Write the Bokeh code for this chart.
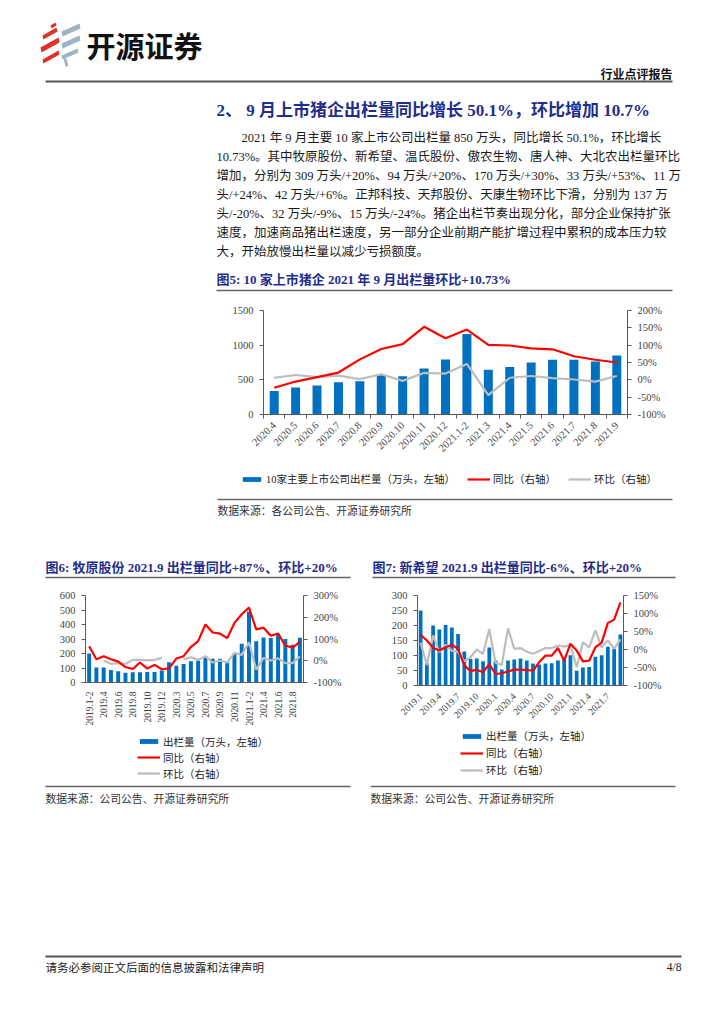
import math
from bokeh.plotting import figure
from bokeh.models import (Range1d, LinearAxis, FixedTicker, PrintfTickFormatter,
                          Legend, LegendItem, ColumnDataSource)
from bokeh.layouts import column, row
from bokeh.embed import file_html
from bokeh.resources import INLINE
from bokeh.core.properties import value

NAN = float("nan")
CJK = "Noto Sans CJK SC"
MIX = "'Liberation Serif', 'Noto Sans CJK SC'"
SERIF = "Liberation Serif"
BLUE = "#0070C0"
RED = "#FF0000"
GRAY = "#BDBDBD"
NAVY = "#1F2E8C"
AXC = "#595959"

# ---------------- data ----------------
c5_labels = ["2020.4", "2020.5", "2020.6", "2020.7", "2020.8", "2020.9", "2020.10",
             "2020.11", "2020.12", "2021.1-2", "2021.3", "2021.4", "2021.5", "2021.6",
             "2021.7", "2021.8", "2021.9"]
c5_volume = [340, 390, 420, 465, 480, 565, 550, 665, 795, 1160, 645, 685, 750, 790, 790, 765, 850]
c5_yoy = [-23, -5, 8, 21, 59, 89, 103, 153, 120, 145, 101, 99, 91, 88, 68, 58, 50]
c5_mom = [6, 14, 8, 12, 2, 16, -3, 20, 18, 46, -44, 6, 11, 5, 1, -5, 11]

c6_labels = (["2019.1-2"] + ["2019.%d" % m for m in range(3, 13)] +
             ["2020.1-2"] + ["2020.%d" % m for m in range(3, 13)] +
             ["2021.1-2"] + ["2021.%d" % m for m in range(3, 10)])
c6_volume = [200, 104, 104, 87, 78, 67, 71, 71, 73, 73, 82, 140, 116, 127, 147, 151, 173,
             164, 164, 138, 200, 267, 489, 284, 311, 307, 333, 300, 260, 309]
c6_yoy = [67, 7, 21, 7, -4, -29, -38, -8, -36, -19, -39, -35, 10, 21, 63, 90, 167, 130,
          125, 104, 174, 214, 244, 144, 152, 115, 125, 70, 60, 87]
c6_mom = [NAN, NAN, 0, -14, -11, -15, 4, 4, 2, 4, 13, NAN, NAN, 7, 16, 4, 21, -8, 1, -8,
          36, 27, 85, -41, 13, 1, 11, -11, -11, 20]

c7_labels = (["2019.%d" % m for m in range(1, 13)] + ["2020.%d" % m for m in range(1, 13)] +
             ["2021.%d" % m for m in range(1, 10)])
c7_volume = [250, 75, 200, 187, 202, 193, 172, 113, 89, 90, 81, 127, 83, 53, 83, 87, 90,
             83, 73, 70, 73, 74, 83, 87, 101, 49, 60, 62, 96, 101, 129, 122, 170]
c7_yoy = [41, 25, 5, -3, 6, 13, 2, -44, -60, -56, -63, -41, -68, -66, -61, -56, -56, -57,
          -59, -35, -17, -17, 4, -31, 16, -3, -33, -31, 6, 19, 74, 83, 131]
c7_mom = [19, -43, 39, -7, 13, -3, -7, -33, -21, 0, -12, 57, -37, -43, 59, 2, 4, -6, -12,
          -4, 4, 4, 11, 8, 13, -49, 20, 6, 53, 6, 25, 2, 28]

legend_c5 = ["10家主要上市公司出栏量（万头，左轴）", "同比（右轴）", "环比（右轴）"]
legend_c67 = ["出栏量（万头，左轴）", "同比（右轴）", "环比（右轴）"]


# ---------------- helpers ----------------
def text_fig(y0, y1, x0=0, w=724):
    p = figure(width=w, height=y1 - y0, x_range=Range1d(x0, x0 + w),
               y_range=Range1d(y1, y0), output_backend="svg", toolbar_location=None,
               x_axis_location=None, y_axis_location=None, min_border=0, tools="")
    p.grid.visible = False
    p.outline_line_color = None
    p.frame_align = False
    return p


def txt(p, x, y, s, size, color="#111111", bold=False, font=MIX, align="left"):
    p.text(x=[x], y=[y], text=[s], text_font=value(font), text_font_size=size,
           text_color=color, text_font_style="bold" if bold else "normal",
           text_align=align, text_baseline="middle")


def hline(p, x0, x1, y, color="#555555", w=1.5):
    p.line([x0, x1], [y, y], line_color=color, line_width=w)


def legend_fig(y0, y1, x0, w, labels, loc, orient, lh, sp, fs="10.5px"):
    p = text_fig(y0, y1, x0, w)
    off = x0 - 5000  # zero-size sample glyphs, far outside the visible range
    b = p.vbar(x=[off], top=[y0], bottom=[y0], width=0.001, fill_color=BLUE, line_color=None)
    r1 = p.line(x=[off, off], y=[y0, y0], line_color=RED, line_width=2.2)
    r2 = p.line(x=[off, off], y=[y0, y0], line_color=GRAY, line_width=2.2)
    items = [LegendItem(label=labels[0], renderers=[b]),
             LegendItem(label=labels[1], renderers=[r1]),
             LegendItem(label=labels[2], renderers=[r2])]
    lg = Legend(items=items, location=loc, orientation=orient,
                glyph_width=23, glyph_height=6, label_height=lh,
                label_text_font=MIX, label_text_font_size=fs,
                label_text_color="#222222", label_standoff=3, spacing=sp,
                padding=0, margin=0, border_line_color=None, background_fill_alpha=0)
    p.add_layout(lg)
    return p


def chart(width, height, borders, labels, label_idx, vol, yoy, mom, yl, yl_ticks,
          yr, yr_ticks, bar_w, angle, xsize, ysize, minor):
    n = len(labels)
    left, right, top, bottom = borders
    p = figure(width=width, height=height, x_range=Range1d(-0.5, n - 0.5),
               y_range=Range1d(*yl), output_backend="svg", toolbar_location=None,
               min_border_left=left, min_border_right=right, min_border_top=top,
               min_border_bottom=bottom, tools="")
    p.frame_align = False
    p.extra_y_ranges = {"r": Range1d(*yr)}
    p.grid.visible = False
    p.outline_line_color = None
    src = ColumnDataSource(dict(x=list(range(n)), vol=vol, yoy=yoy, mom=mom))
    p.vbar(x="x", top="vol", width=bar_w, source=src, fill_color=BLUE, line_color=None)
    p.line("x", "mom", source=src, y_range_name="r", line_color=GRAY, line_width=2.2)
    p.line("x", "yoy", source=src, y_range_name="r", line_color=RED, line_width=2.2)

    xa = p.xaxis[0]
    mt = [i - 0.5 for i in range(n + 1)] if minor else []
    xa.ticker = FixedTicker(ticks=label_idx, minor_ticks=mt)
    xa.major_label_overrides = {i: labels[i] for i in label_idx}
    xa.major_label_orientation = angle
    xa.major_tick_line_color = None
    xa.minor_tick_line_color = AXC if minor else None
    xa.minor_tick_in = 0
    xa.minor_tick_out = 4
    xa.major_label_standoff = 3
    xa.major_label_text_font = SERIF
    xa.major_label_text_font_size = xsize
    xa.axis_line_color = AXC

    ya = p.yaxis[0]
    ya.ticker = FixedTicker(ticks=yl_ticks)
    ra = LinearAxis(y_range_name="r", ticker=FixedTicker(ticks=yr_ticks),
                    formatter=PrintfTickFormatter(format="%d%%"))
    p.add_layout(ra, "right")
    for a in (ya, ra):
        a.major_label_text_font = SERIF
        a.major_label_text_font_size = ysize
        a.axis_line_color = AXC
        a.major_tick_line_color = AXC
        a.major_tick_out = 4
        a.major_tick_in = 0
        a.minor_tick_line_color = None
        a.major_label_standoff = 6
    return p


# ---------------- header / text block ----------------
f1 = text_fig(0, 295)
red_x = [[42, 56, 57, 43], [40, 58, 59, 41], [42, 58, 59, 43], [50, 55, 56, 51]]
red_y = [[35, 27, 31, 39], [47, 37, 42, 52], [59, 50, 54, 63], [25, 22, 25, 28]]
f1.patches(red_x, red_y, fill_color="#E0312B", line_color=None)
gb_x = [[61, 79, 80, 62], [61, 79, 80, 62], [61, 77, 78, 62], [63, 66, 68, 65]]
gb_y = [[31, 23, 28, 36], [43, 35, 40, 48], [55, 48, 52, 59], [58, 58, 66, 66]]
f1.patches(gb_x, gb_y, fill_color="#9DB4C2", line_color=None)
txt(f1, 86, 44, "开源证券", "29px", "#111111", bold=True, font=CJK)
txt(f1, 672, 73, "行业点评报告", "12px", "#111111", bold=True, align="right", font=CJK)
hline(f1, 45, 672, 81, "#555555", 2)
txt(f1, 216, 110, "2、 9 月上市猪企出栏量同比增长 50.1%，环比增加 10.7%", "17px", NAVY, bold=True)
para = [
    (241, "2021 年 9 月主要 10 家上市公司出栏量 850 万头，同比增长 50.1%，环比增长"),
    (216, "10.73%。其中牧原股份、新希望、温氏股份、傲农生物、唐人神、大北农出栏量环比"),
    (216, "增加，分别为 309 万头/+20%、94 万头/+20%、170 万头/+30%、33 万头/+53%、11 万"),
    (216, "头/+24%、42 万头/+6%。正邦科技、天邦股份、天康生物环比下滑，分别为 137 万"),
    (216, "头/-20%、32 万头/-9%、15 万头/-24%。猪企出栏节奏出现分化，部分企业保持扩张"),
    (216, "速度，加速商品猪出栏速度，另一部分企业前期产能扩增过程中累积的成本压力较"),
    (216, "大，开始放慢出栏量以减少亏损额度。"),
]
for i, (x, s) in enumerate(para):
    txt(f1, x, 137 + i * 19.1, s, "12.5px", "#1a1a1a")
txt(f1, 216, 279, "图5: 10 家上市猪企 2021 年 9 月出栏量环比+10.73%", "13px", NAVY, bold=True)
hline(f1, 216, 672, 290, "#666666", 1.5)

# ---------------- chart 5 ----------------
f2 = chart(724, 173, (263, 97, 15, 54), c5_labels, list(range(len(c5_labels))),
           c5_volume, c5_yoy, c5_mom, (0, 1500), [0, 500, 1000, 1500],
           (-100, 200), [-100, -50, 0, 50, 100, 150, 200], 0.42, math.pi / 4,
           "10.5px", "10.5px", True)
f2L = legend_fig(468, 492, 0, 724, legend_c5, (240, 6), "horizontal", 14, 12)

# ---------------- sources + titles ----------------
f3 = text_fig(492, 585)
hline(f3, 217, 672, 499, "#666666", 1.5)
txt(f3, 217, 509, "数据来源：各公司公告、开源证券研究所", "10.8px", "#333333", font=CJK)
txt(f3, 45, 567, "图6: 牧原股份 2021.9 出栏量同比+87%、环比+20%", "13px", NAVY, bold=True)
txt(f3, 372, 567, "图7: 新希望 2021.9 出栏量同比-6%、环比+20%", "13px", NAVY, bold=True)
hline(f3, 45, 350, 577, "#666666", 1.5)
hline(f3, 372, 675, 577, "#666666", 1.5)

# ---------------- chart 6 & 7 ----------------
f4 = chart(360, 143, (85, 57, 10, 43), c6_labels, list(range(0, 30, 2)),
           c6_volume, c6_yoy, c6_mom, (0, 600), [0, 100, 200, 300, 400, 500, 600],
           (-100, 300), [-100, 0, 100, 200, 300], 0.55, math.pi / 2,
           "9.5px", "10.5px", False)
f4L = legend_fig(728, 782, 0, 360, legend_c67, (137, 1), "vertical", 16, 0)
f5 = chart(364, 143, (57, 101, 10, 43), c7_labels, list(range(0, 33, 3)),
           c7_volume, c7_yoy, c7_mom, (0, 300), [0, 50, 100, 150, 200, 250, 300],
           (-100, 150), [-100, -50, 0, 50, 100, 150], 0.6, math.pi / 4,
           "9.5px", "10.5px", False)
f5L = legend_fig(728, 782, 360, 364, legend_c67, (100, 4), "vertical", 17, 0)

# ---------------- bottom sources + footer ----------------
f6 = text_fig(782, 1020)
hline(f6, 45, 350, 786, "#666666", 1.5)
hline(f6, 370, 675, 786, "#666666", 1.5)
txt(f6, 45, 797, "数据来源：公司公告、开源证券研究所", "10.8px", "#333333", font=CJK)
txt(f6, 370, 797, "数据来源：公司公告、开源证券研究所", "10.8px", "#333333", font=CJK)
hline(f6, 45, 681, 956, "#555555", 2)
txt(f6, 45, 966, "请务必参阅正文后面的信息披露和法律声明", "11.5px", "#222222", font=CJK)
txt(f6, 681, 966, "4/8", "11.5px", "#222222", font=SERIF, align="right")

layout = column(f1, f2, f2L, f3,
                row(column(f4, f4L, spacing=0), column(f5, f5L, spacing=0), spacing=0),
                f6, spacing=0)
open("out.html", "w").write(file_html(layout, INLINE))
